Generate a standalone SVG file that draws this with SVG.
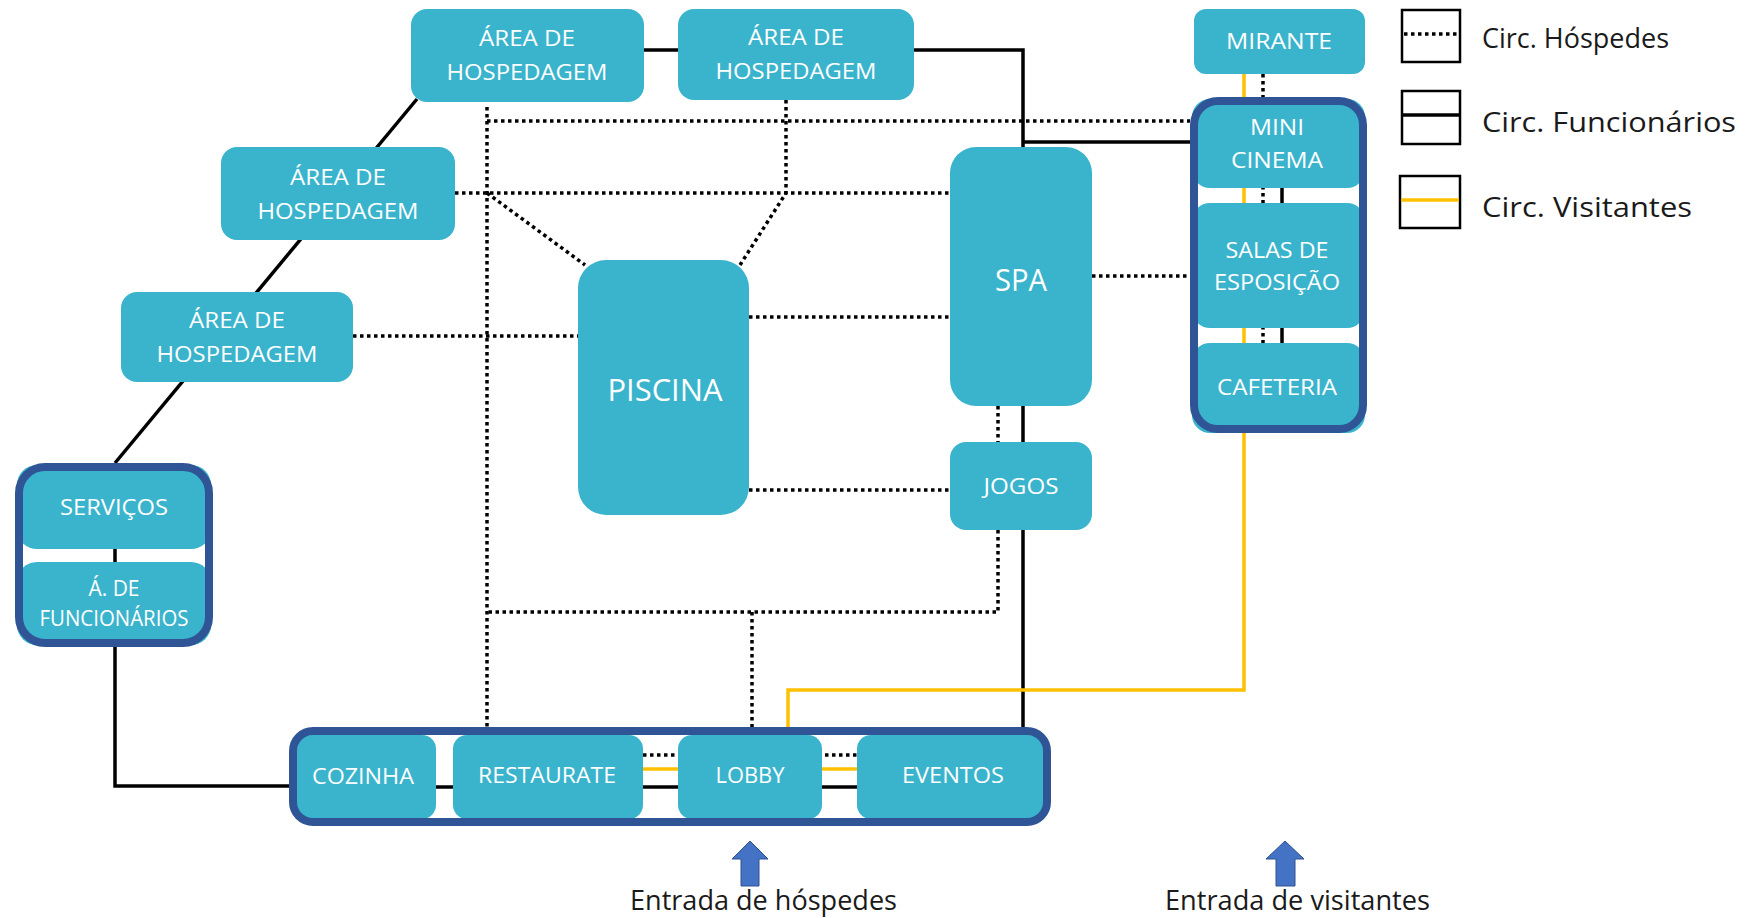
<svg xmlns="http://www.w3.org/2000/svg" width="1757" height="918" viewBox="0 0 1757 918">
<defs>
<style>
.n{fill:#3AB4CD;}
.t{fill:#FFFFFF;font-family:"Open Sans","Liberation Sans",sans-serif;font-size:21px;text-anchor:middle;}
.big{font-size:31px;}
.grp{fill:none;stroke:#2F5597;stroke-width:8;}
.f{fill:none;stroke:#000;stroke-width:3.5;}
.h{fill:none;stroke:#000;stroke-width:3.5;stroke-dasharray:3.5 3.5;}
.v{fill:none;stroke:#FFC000;stroke-width:3.5;}
.lg{fill:none;stroke:#000;stroke-width:2.5;}
.lt{fill:#1A1A1A;font-family:"Open Sans","Liberation Sans",sans-serif;font-size:27px;}
.arr{fill:#4472C4;stroke:#2F528F;stroke-width:1;}
</style>
</defs>
<rect width="1757" height="918" fill="#FFFFFF"/>

<g id="connectors">
  <!-- Funcionários (solid black) -->
  <path class="f" d="M417,99 L115,463"/>
  <path class="f" d="M644,50 L678,50"/>
  <path class="f" d="M914,50 L1023,50 L1023,727"/>
  <path class="f" d="M1023,142 L1190,142"/>
  <path class="f" d="M115,463 L115,786 L290,786"/>
  <path class="f" d="M290,787 L1043,787"/>
  <path class="f" d="M1282,188 L1282,343"/>
  <!-- Hóspedes (dotted) -->
  <path class="h" d="M487,107 L487,727"/>
  <path class="h" d="M487,121 L1190,121"/>
  <path class="h" d="M455,193 L950,193"/>
  <path class="h" d="M487,193 L585,265"/>
  <path class="h" d="M786,100 L786,193 L740,265"/>
  <path class="h" d="M353,336 L578,336"/>
  <path class="h" d="M749,317 L950,317"/>
  <path class="h" d="M1092,276 L1190,276"/>
  <path class="h" d="M749,490 L950,490"/>
  <path class="h" d="M998,406 L998,442"/>
  <path class="h" d="M998,530 L998,612 L487,612"/>
  <path class="h" d="M752,612 L752,727"/>
  <path class="h" d="M643,755 L857,755"/>
  <path class="h" d="M1263,74 L1263,343"/>
  <!-- Visitantes (yellow) -->
  <path class="v" d="M1244,74 L1244,690 L788,690 L788,727"/>
  <path class="v" d="M643,769 L857,769"/>
</g>

<g id="area-hospedagem-1">
  <rect class="n" x="411" y="9" width="233" height="93" rx="16"/>
  <text class="t" x="527" y="46" textLength="96" lengthAdjust="spacingAndGlyphs">ÁREA DE</text>
  <text class="t" x="527" y="80" textLength="161" lengthAdjust="spacingAndGlyphs">HOSPEDAGEM</text>
</g>
<g id="area-hospedagem-2">
  <rect class="n" x="678" y="9" width="236" height="91" rx="16"/>
  <text class="t" x="796" y="45" textLength="96" lengthAdjust="spacingAndGlyphs">ÁREA DE</text>
  <text class="t" x="796" y="79" textLength="161" lengthAdjust="spacingAndGlyphs">HOSPEDAGEM</text>
</g>
<g id="area-hospedagem-3">
  <rect class="n" x="221" y="147" width="234" height="93" rx="16"/>
  <text class="t" x="338" y="185" textLength="96" lengthAdjust="spacingAndGlyphs">ÁREA DE</text>
  <text class="t" x="338" y="219" textLength="161" lengthAdjust="spacingAndGlyphs">HOSPEDAGEM</text>
</g>
<g id="area-hospedagem-4">
  <rect class="n" x="121" y="292" width="232" height="90" rx="16"/>
  <text class="t" x="237" y="328" textLength="96" lengthAdjust="spacingAndGlyphs">ÁREA DE</text>
  <text class="t" x="237" y="362" textLength="161" lengthAdjust="spacingAndGlyphs">HOSPEDAGEM</text>
</g>
<g id="piscina">
  <rect class="n" x="578" y="260" width="171" height="255" rx="28"/>
  <text class="t big" x="665" y="401" textLength="115" lengthAdjust="spacingAndGlyphs">PISCINA</text>
</g>
<g id="spa">
  <rect class="n" x="950" y="147" width="142" height="259" rx="26"/>
  <text class="t big" x="1021" y="291" textLength="52" lengthAdjust="spacingAndGlyphs">SPA</text>
</g>
<g id="jogos">
  <rect class="n" x="950" y="442" width="142" height="88" rx="16"/>
  <text class="t" x="1021" y="494" textLength="75" lengthAdjust="spacingAndGlyphs">JOGOS</text>
</g>
<g id="mirante">
  <rect class="n" x="1194" y="9" width="171" height="65" rx="12"/>
  <text class="t" x="1279" y="49" textLength="106" lengthAdjust="spacingAndGlyphs">MIRANTE</text>
</g>

<g id="grupo-cultural">
  <g id="mini-cinema">
    <rect class="n" x="1192" y="99" width="173" height="89" rx="18"/>
    <text class="t" x="1277" y="135" textLength="54" lengthAdjust="spacingAndGlyphs">MINI</text>
    <text class="t" x="1277" y="168" textLength="92" lengthAdjust="spacingAndGlyphs">CINEMA</text>
  </g>
  <g id="salas-esposicao">
    <rect class="n" x="1192" y="203" width="173" height="125" rx="18"/>
    <text class="t" x="1277" y="258" textLength="103" lengthAdjust="spacingAndGlyphs">SALAS DE</text>
    <text class="t" x="1277" y="290" textLength="126" lengthAdjust="spacingAndGlyphs">ESPOSIÇÃO</text>
  </g>
  <g id="cafeteria">
    <rect class="n" x="1192" y="343" width="173" height="90" rx="18"/>
    <text class="t" x="1277" y="395" textLength="120" lengthAdjust="spacingAndGlyphs">CAFETERIA</text>
  </g>
  <rect class="grp" x="1194" y="101" width="169" height="328" rx="24"/>
</g>

<g id="grupo-servicos">
  <g id="servicos">
    <rect class="n" x="17" y="465" width="194" height="84" rx="20"/>
    <text class="t" x="114" y="515" textLength="108" lengthAdjust="spacingAndGlyphs">SERVIÇOS</text>
  </g>
  <g id="area-funcionarios">
    <rect class="n" x="17" y="562" width="194" height="83" rx="20"/>
    <text class="t" x="114" y="596" textLength="51" lengthAdjust="spacingAndGlyphs">Á. DE</text>
    <text class="t" x="114" y="626" textLength="149" lengthAdjust="spacingAndGlyphs">FUNCIONÁRIOS</text>
  </g>
  <rect class="grp" x="19" y="467" width="190" height="176" rx="26"/>
</g>

<g id="grupo-entrada">
  <g id="cozinha">
    <rect class="n" x="297" y="735" width="139" height="84" rx="14"/>
    <text class="t" x="363" y="784" textLength="102" lengthAdjust="spacingAndGlyphs">COZINHA</text>
  </g>
  <g id="restaurate">
    <rect class="n" x="453" y="735" width="190" height="84" rx="14"/>
    <text class="t" x="547" y="783" textLength="138" lengthAdjust="spacingAndGlyphs">RESTAURATE</text>
  </g>
  <g id="lobby">
    <rect class="n" x="678" y="735" width="144" height="84" rx="14"/>
    <text class="t" x="750" y="783" textLength="69" lengthAdjust="spacingAndGlyphs">LOBBY</text>
  </g>
  <g id="eventos">
    <rect class="n" x="857" y="735" width="186" height="84" rx="14"/>
    <text class="t" x="953" y="783" textLength="102" lengthAdjust="spacingAndGlyphs">EVENTOS</text>
  </g>
  <rect class="grp" x="293" y="731" width="754" height="91" rx="20"/>
</g>

<g id="entrada-hospedes">
  <polygon class="arr" points="750,841 768,859 759,859 759,886 741,886 741,859 732,859"/>
  <text class="lt" x="630" y="910" textLength="267" lengthAdjust="spacingAndGlyphs">Entrada de hóspedes</text>
</g>
<g id="entrada-visitantes">
  <polygon class="arr" points="1285,841 1304,859 1295,859 1295,886 1276,886 1276,859 1266,859"/>
  <text class="lt" x="1165" y="910" textLength="265" lengthAdjust="spacingAndGlyphs">Entrada de visitantes</text>
</g>

<g id="legenda">
  <rect class="lg" x="1402" y="10" width="58" height="52"/>
  <path class="h" d="M1404,34 L1458,34" stroke-width="3"/>
  <text class="lt" x="1482" y="48" textLength="187" lengthAdjust="spacingAndGlyphs">Circ. Hóspedes</text>
  <rect class="lg" x="1402" y="91" width="58" height="53"/>
  <path class="f" d="M1403,115 L1459,115"/>
  <text class="lt" x="1482" y="132" textLength="254" lengthAdjust="spacingAndGlyphs">Circ. Funcionários</text>
  <rect class="lg" x="1400" y="176" width="60" height="52"/>
  <path class="v" d="M1401,200 L1459,200"/>
  <text class="lt" x="1482" y="217" textLength="210" lengthAdjust="spacingAndGlyphs">Circ. Visitantes</text>
</g>
</svg>
